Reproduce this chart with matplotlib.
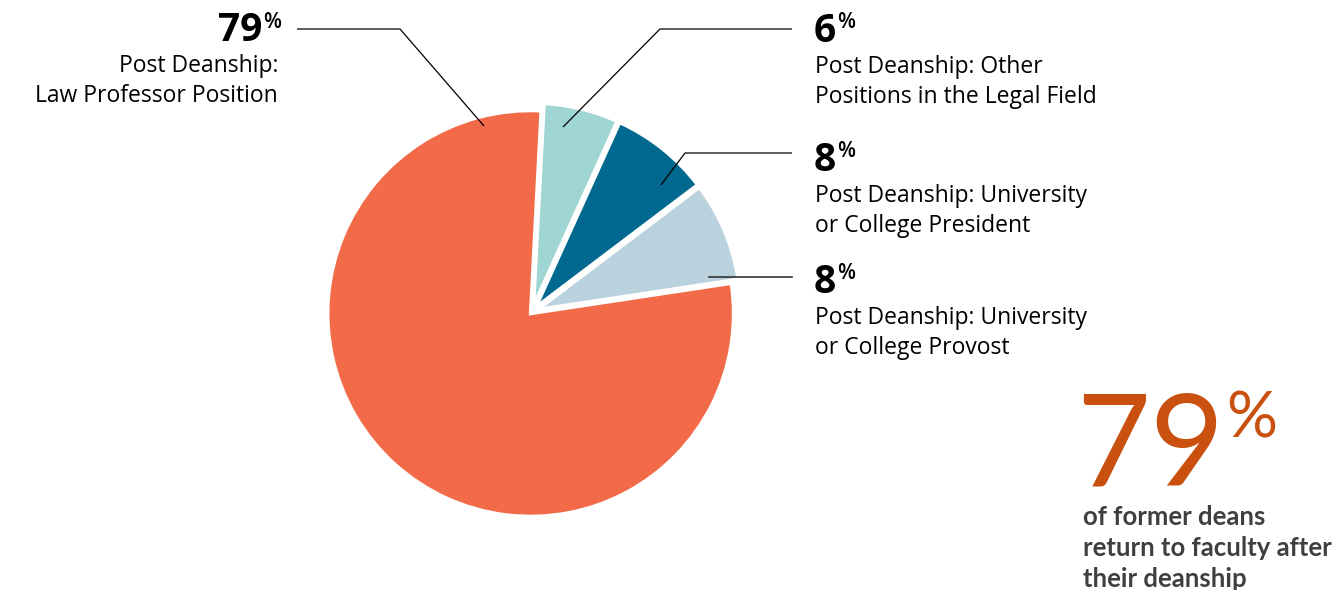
import matplotlib.pyplot as plt

# slice values, drawn clockwise from the top
values = [6, 8, 8, 79]
colors = ['#9fd5d3', '#01698f', '#bad1de', '#f26a48']
pcts = ['6', '8', '8', '79']
names = [['Post Deanship: Other', 'Positions in the Legal Field'],
         ['Post Deanship: University', 'or College President'],
         ['Post Deanship: University', 'or College Provost'],
         ['Post Deanship:', 'Law Professor Position']]
big_pct = '79'
note = ['of former deans', 'return to faculty after', 'their deanship']

plt.rcParams['font.family'] = ['Open Sans', 'DejaVu Sans']

fig = plt.figure(figsize=(13.39, 5.90), dpi=100)
ax = fig.add_axes([0, 0, 1, 1])

# y axis is flipped so that pixel positions can be used, hence counterclock=True
ax.pie(values, colors=colors, startangle=-87, counterclock=True,
       center=(532, 312), radius=203, explode=[6, 6, 6, 2],
       wedgeprops=dict(edgecolor='white', linewidth=2.6))
ax.set_xlim(0, 1339)
ax.set_ylim(590, 0)
ax.set_aspect('auto')
ax.axis('off')
rend = fig.canvas.get_renderer()


def px_width(t):
    bb = t.get_window_extent(renderer=rend)
    return bb.width


lk = dict(color='black', lw=0.9, solid_capstyle='butt')
# leader lines
ax.plot([297, 400, 484], [29, 29, 126], **lk)
ax.plot([563, 660, 792], [127, 29, 29], **lk)
ax.plot([661, 685, 792], [185, 153, 153], **lk)
ax.plot([709, 792], [277, 277], color='#333333', lw=1.2)

# right side labels
for i, yb in enumerate([42, 171, 293]):
    t = ax.text(814, yb, pcts[i], fontsize=28, fontweight='bold', va='baseline', ha='left')
    ax.text(814 + px_width(t) + 1, yb - 30, '%', fontsize=15, fontweight='semibold',
            va='top', ha='left')
    ax.text(815, yb + 31, names[i][0], fontsize=16.5, va='baseline', ha='left')
    ax.text(815, yb + 61, names[i][1], fontsize=16.5, va='baseline', ha='left')

# left label
t = ax.text(262, 41, pcts[3], fontsize=28, fontweight='bold', va='baseline', ha='right')
ax.text(263, 12, '%', fontsize=15, fontweight='semibold', va='top', ha='left')
ax.text(278, 72, names[3][0], fontsize=16.5, va='baseline', ha='right')
ax.text(278, 102, names[3][1], fontsize=16.5, va='baseline', ha='right')

# big callout
ax.text(1076, 486, big_pct, fontsize=92, fontfamily='Lato', fontweight='normal',
        color='#c9500f', va='baseline', ha='left')
ax.text(1226, 390, '%', fontsize=46, fontfamily='Lato', fontweight='normal',
        color='#c9500f', va='top', ha='left')
for j, line in enumerate(note):
    ax.text(1083, 525 + j * 31, line, fontsize=18.5, fontfamily='Lato',
            fontweight='bold', color='#3e3f41', va='baseline', ha='left')

fig.savefig('out.png', dpi=100)
